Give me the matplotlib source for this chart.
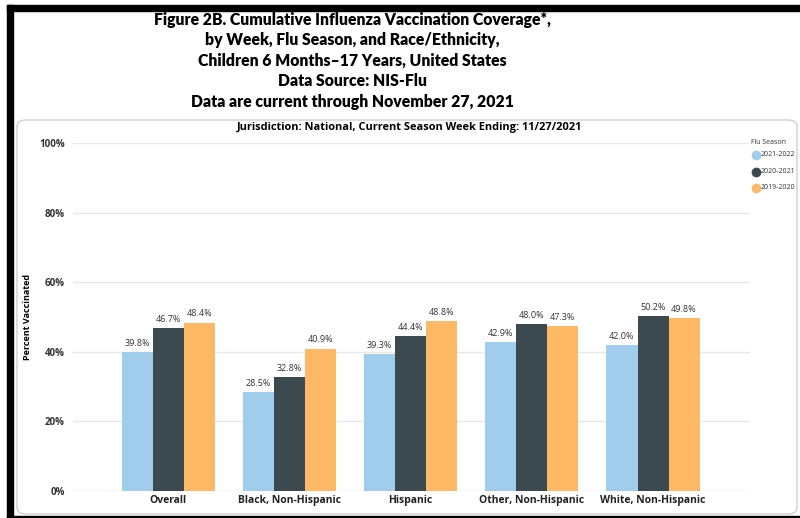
import numpy as np
import matplotlib.pyplot as plt
from matplotlib.patches import Rectangle, FancyBboxPatch
from matplotlib.lines import Line2D

# ---- data ----
groups = ['Overall', 'Black, Non-Hispanic', 'Hispanic', 'Other, Non-Hispanic', 'White, Non-Hispanic']
seasons = ['2021-2022', '2020-2021', '2019-2020']
s2122 = [39.8, 28.5, 39.3, 42.9, 42.0]
s2021 = [46.7, 32.8, 44.4, 48.0, 50.2]
s1920 = [48.4, 40.9, 48.8, 47.3, 49.8]
yticks = [0, 20, 40, 60, 80, 100]

colors = ['#A0CDEB', '#3C4A50', '#FDB965']
title_lines = ['Figure 2B. Cumulative Influenza Vaccination Coverage*,',
               'by Week, Flu Season, and Race/Ethnicity,',
               'Children 6 Months\u201317 Years, United States',
               'Data Source: NIS-Flu',
               'Data are current through November 27, 2021']

plt.rcParams['font.family'] = ['Open Sans', 'DejaVu Sans']

W, H = 800, 518
fig = plt.figure(figsize=(8, 5.18), dpi=100)

# frame: black border on left / top / bottom
fig.patches.append(Rectangle((7 / W, 0), 6 / W, 1 - 5 / H, transform=fig.transFigure, color='black', zorder=-5))
fig.patches.append(Rectangle((7 / W, 1 - 11 / H), 1 - 7 / W, 6 / H, transform=fig.transFigure, color='black', zorder=-5))
fig.patches.append(Rectangle((7 / W, 0), 1 - 7 / W, 2 / H, transform=fig.transFigure, color='black', zorder=-5))

# rounded panel
fig.patches.append(FancyBboxPatch((17 / W, 4 / H), 780 / W, (515 - 115) / H - 6 / H,
                                  boxstyle='round,pad=0,rounding_size=0.012',
                                  transform=fig.transFigure, facecolor='white',
                                  edgecolor='#D0D0D0', lw=1.0, zorder=-4))

tfont = ['Lato', 'DejaVu Sans']
for i, line in enumerate(title_lines):
    fig.text(352 / W, 1 - (19.5 + i * 20.6) / H, line, ha='center', va='center',
             fontsize=11.3, fontweight='heavy', family=tfont)

fig.text(410 / W, 1 - 127 / H, 'Jurisdiction: National, Current Season Week Ending: 11/27/2021',
         ha='center', va='center', fontsize=7.9, fontweight='bold')

ax = fig.add_axes([73 / W, 1 - 491 / H, (750 - 73) / W, (491 - 143) / H])
ax.set_facecolor('none')
x = np.arange(len(groups))
bw = 0.256
for k, (vals, c) in enumerate(zip([s2122, s2021, s1920], colors)):
    bars = ax.bar(x + (k - 1) * bw, vals, bw, color=c, zorder=2, label=seasons[k])
    for b, v in zip(bars, vals):
        ax.text(b.get_x() + b.get_width() / 2, v + 1.2, f'{v:.1f}%', ha='center', va='bottom',
                fontsize=6.5, color='#333333')

ax.set_ylim(0, 100)
ax.set_xlim(-0.785, 4.8)
ax.set_yticks(yticks)
ax.set_yticklabels([f'{t}%' for t in yticks], fontsize=7, fontweight='bold', color='#333333')
ax.set_xticks(x)
ax.set_xticklabels(groups, fontsize=7.5, fontweight='bold', color='#222222')
ax.tick_params(length=0, pad=6)
ax.tick_params(axis='x', pad=3)
ax.grid(axis='y', color='#E8E8E8', lw=1, zorder=0)
for s in ax.spines.values():
    s.set_visible(False)
ax.set_ylabel('Percent Vaccinated', fontsize=6.5, fontweight='bold', labelpad=5)

# legend
fig.text(751 / W, 1 - 142 / H, 'Flu Season', fontsize=5, va='center', color='#333333')
for i, (s, c) in enumerate(zip(seasons, colors)):
    yy = 1 - (155 + i * 16.5) / H
    fig.add_artist(Line2D([756 / W], [yy], marker='o', markersize=6, color=c, transform=fig.transFigure))
    fig.text(761 / W, yy, s, fontsize=5, va='center', color='#333333')

fig.savefig('out.png', dpi=100)
